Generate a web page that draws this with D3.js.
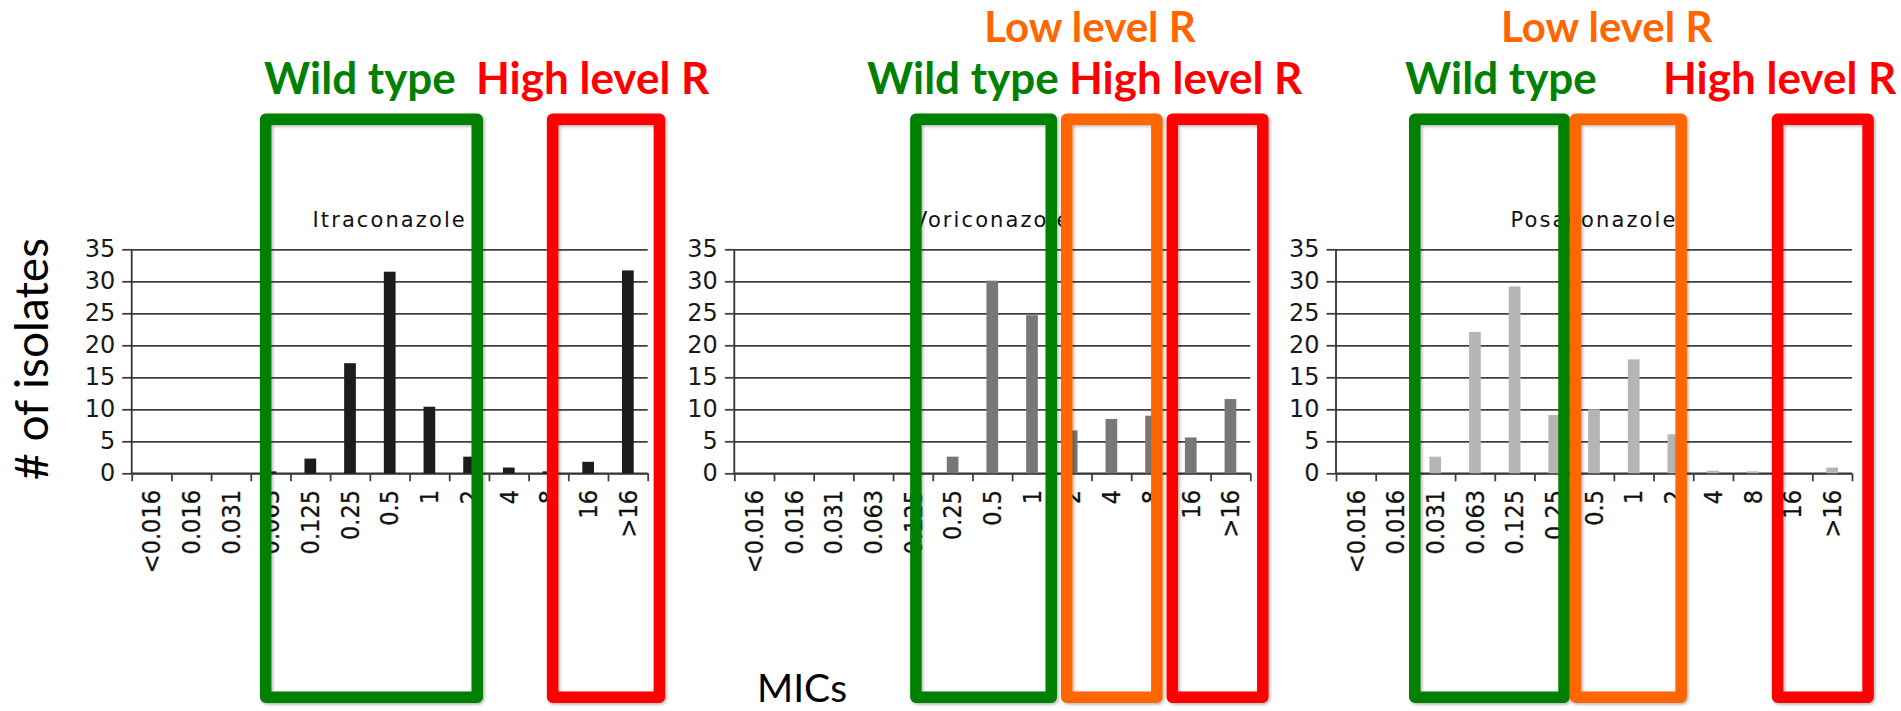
<!DOCTYPE html>
<html>
<head>
<meta charset="utf-8">
<script src="https://cdn.jsdelivr.net/npm/d3@7"></script>
<style>
  html, body { margin: 0; padding: 0; background: #fff; }
  svg { display: block; }
</style>
</head>
<body>
<svg id="chart" width="1901" height="711"></svg>
<script>
// ---------------- data ----------------
const categories = ["<0.016", "0.016", "0.031", "0.063", "0.125", "0.25", "0.5", "1", "2", "4", "8", "16", ">16"];
const drugNames = ["Itraconazole", "Voriconazole", "Posaconazole"];
const itraconazole = [0, 0, 0, 0.3, 2.3, 17.2, 31.5, 10.4, 2.6, 0.9, 0.3, 1.8, 31.7];
const voriconazole = [0, 0, 0, 0, 0, 2.6, 30.1, 24.7, 6.7, 8.5, 9.0, 5.6, 11.6];
const posaconazole = [0, 0, 2.6, 22.1, 29.2, 9.1, 10.0, 17.8, 6.1, 0.4, 0.3, 0, 0.9];
const yTicks = [0, 5, 10, 15, 20, 25, 30, 35];
const zoneNames = ["Wild type", "Low level R", "High level R"];
// zones per chart, in category units along the axis: [zoneIndex, from, to]
const zones = [
  [[0, 3.23, 8.85], [2, 10.46, 13.44]],
  [[0, 4.43, 8.13], [1, 8.23, 10.79], [2, 10.89, 13.46]],
  [[0, 1.84, 5.89], [1, 5.89, 8.84], [2, 10.98, 13.55]]
];

// ---------------- layout / style ----------------
const series = [itraconazole, voriconazole, posaconazole];
const barColors = ["#1c1c1c", "#777876", "#b5b5b5"];
const zoneColors = ["#028002", "#ff6600", "#ff0000"];
const chartLeft = [131.7, 734.3, 1336];
const plotW = 516, plotTop = 249.3, plotBottom = 473.3;
// label placement per chart: [zoneIndex, left offset from chart origin, row]
const zoneLabelPos = [
  [[0, 132.3, 1], [2, 344.3, 1]],
  [[1, 250, 0], [0, 132.7, 1], [2, 334.7, 1]],
  [[0, 69, 1], [1, 165, 0], [2, 327, 1]]
];
const rowBaselines = [42, 94.3];
const rowSizes = [42, 44];

const svg = d3.select("#chart");
const defs = svg.append("defs");
const f = defs.append("filter").attr("id", "shadow")
  .attr("x", "-20%").attr("y", "-5%").attr("width", "140%").attr("height", "110%");
f.append("feDropShadow").attr("dx", 1.5).attr("dy", 1.5).attr("stdDeviation", 1.5)
  .attr("flood-color", "#000").attr("flood-opacity", 0.3);

const y = d3.scaleLinear().domain([0, 35]).range([plotBottom, plotTop]);

series.forEach((vals, ci) => {
  const g = svg.append("g").attr("transform", `translate(${chartLeft[ci]},0)`);
  const x = d3.scaleBand().domain(categories).range([0, plotW]).padding(0);
  const xu = d3.scaleLinear().domain([0, categories.length]).range([0, plotW]);

  // gridlines
  const grid = g.append("g").call(d3.axisLeft(y).tickValues(yTicks).tickSize(-plotW).tickFormat(""));
  grid.select(".domain").remove();
  grid.selectAll("line").attr("stroke", "#404040").attr("stroke-width", 1.8);

  // y axis
  const ya = g.append("g").call(d3.axisLeft(y).tickValues(yTicks).tickSize(9.5).tickPadding(7));
  ya.select(".domain").attr("stroke", "#333").attr("stroke-width", 1.8).attr("d", `M0,${plotTop}V${plotBottom}`);
  ya.selectAll("line").attr("stroke", "#404040").attr("stroke-width", 1.8);
  ya.selectAll("text").attr("font-family", "DejaVu Sans, sans-serif").attr("font-size", 24)
    .attr("fill", "#1a1a1a");

  // x axis (ticks at category boundaries)
  const xa = g.append("g").attr("transform", `translate(0,${plotBottom})`)
    .call(d3.axisBottom(xu).tickValues(d3.range(categories.length + 1)).tickSize(8).tickFormat(""));
  xa.select(".domain").attr("stroke", "#333").attr("stroke-width", 1.8).attr("d", `M0,0H${plotW}`);
  xa.selectAll("line").attr("stroke", "#404040").attr("stroke-width", 1.8);

  // x labels rotated
  g.append("g").selectAll("text").data(categories).join("text")
    .attr("transform", d => `translate(${x(d) + x.bandwidth() / 2},490) rotate(-90)`)
    .attr("text-anchor", "end").attr("dy", "0.35em")
    .attr("font-family", "'Liberation Sans Narrow', 'Arial Narrow', 'DejaVu Sans Condensed', sans-serif")
    .attr("font-size", 25).attr("fill", "#111")
    .attr("stroke", "#111").attr("stroke-width", 0.3)
    .text(d => d);

  // bars
  const bw = x.bandwidth() * 0.295;
  g.append("g").selectAll("rect").data(vals).join("rect")
    .attr("x", (d, i) => x(categories[i]) + x.bandwidth() / 2 - bw / 2)
    .attr("width", bw)
    .attr("y", d => y(d))
    .attr("height", d => y(0) - y(d))
    .attr("fill", barColors[ci]);

  // title
  g.append("text").attr("x", plotW / 2).attr("y", 226.7).attr("text-anchor", "middle")
    .attr("font-family", "DejaVu Sans, sans-serif").attr("font-size", 21)
    .attr("letter-spacing", 2.1).attr("fill", "#111")
    .text(drugNames[ci]);

  // zone boxes
  const sw = 11.5, boxTop = 113.5, boxBottom = 703;
  g.append("g").selectAll("rect").data(zones[ci]).join("rect")
    .attr("x", d => xu(d[1]) + sw / 2)
    .attr("width", d => xu(d[2]) - xu(d[1]) - sw)
    .attr("y", boxTop + sw / 2)
    .attr("height", boxBottom - boxTop - sw)
    .attr("fill", "none")
    .attr("stroke", d => zoneColors[d[0]])
    .attr("stroke-width", sw)
    .attr("stroke-linejoin", "round")
    .attr("filter", "url(#shadow)");

  // zone labels
  g.append("g").selectAll("text").data(zoneLabelPos[ci]).join("text")
    .attr("x", d => d[1]).attr("y", d => rowBaselines[d[2]])
    .attr("font-family", "Lato, sans-serif").attr("font-weight", "bold")
    .attr("font-size", d => rowSizes[d[2]])
    .attr("fill", d => zoneColors[d[0]])
    .text(d => zoneNames[d[0]]);
});

// axis titles
svg.append("text").attr("transform", "translate(48,359) rotate(-90)")
  .attr("text-anchor", "middle").attr("font-family", "Lato, sans-serif").attr("font-size", 46)
  .attr("fill", "#000").text("# of isolates");
svg.append("text").attr("x", 802).attr("y", 702).attr("text-anchor", "middle")
  .attr("font-family", "Lato, sans-serif").attr("font-size", 39)
  .attr("fill", "#000").text("MICs");
</script>
</body>
</html>
